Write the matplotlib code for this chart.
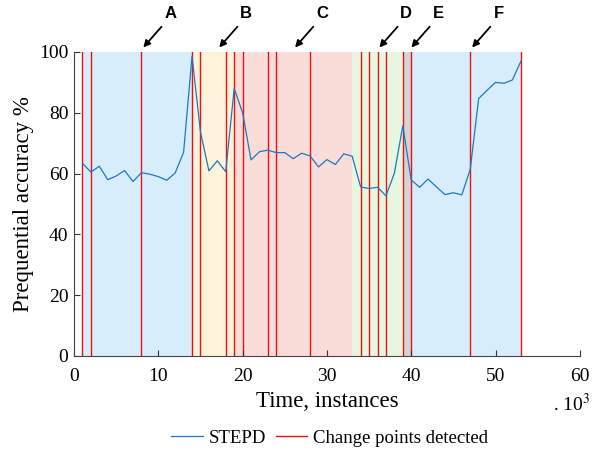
import numpy as np
import matplotlib
matplotlib.use('Agg')
from matplotlib import pyplot as plt

# Du lieu doc tu hinh
time_k = np.arange(1, 54)
stepd_acc = [63.4, 60.5, 62.4, 58.0, 59.2, 61.0, 57.4, 60.3, 59.8, 59.0,
             57.8, 60.2, 67.0, 98.6, 73.7, 60.9, 64.2, 60.6, 88.0, 80.0,
             64.5, 67.2, 67.7, 66.9, 66.9, 64.9, 66.7, 65.8, 62.2, 64.6,
             63.0, 66.5, 65.7, 55.6, 55.1, 55.5, 52.7, 60.1, 75.7, 57.9,
             55.5, 58.2, 55.6, 53.1, 53.7, 53.0, 61.4, 84.7, 87.4, 90.0,
             89.7, 90.8, 96.9]
change_points = [1, 2, 8, 14, 15, 18, 19, 20, 23, 24, 28, 34, 35, 36, 37, 39, 40, 47, 53]

# vung (bat dau, ket thuc, mau)
region_start = [1, 14, 19, 33, 39, 40]
region_end = [14, 19, 33, 39, 40, 53]
region_color = ['#d8edfb', '#fdf3da', '#fadcd8', '#e6f6e0', '#d4d4d8', '#d8edfb']

# nhan A-F va vi tri mui ten
labels = ['A', 'B', 'C', 'D', 'E', 'F']
label_x = [8, 17, 26, 36, 39.8, 47]

plt.rcParams['font.family'] = ['Liberation Serif', 'DejaVu Serif']
plt.rcParams['mathtext.fontset'] = 'stix'

fig = plt.figure(figsize=(5.93, 4.54), dpi=100)
ax = fig.add_axes([0.1248, 0.2159, 0.853, 0.6696])

for s, e, c in zip(region_start, region_end, region_color):
    ax.axvspan(s, e, color=c, lw=0, zorder=0)

for i, cp in enumerate(change_points):
    ax.axvline(cp, color='#ee1111', lw=1.0, zorder=1,
               label='Change points detected' if i == 0 else None)

ax.plot(time_k, stepd_acc, color='#1f77c4', lw=0.9, zorder=2, label='STEPD')

ax.set_xlim(0, 60)
ax.set_ylim(0, 100)
ax.set_xticks(range(0, 61, 10))
ax.set_yticks(range(0, 101, 20))
ax.tick_params(direction='in', labelsize=14, length=4, color='#333333', pad=4)
ax.tick_params(axis='x', pad=9)
for side in ['top', 'right']:
    ax.spines[side].set_visible(False)
for side in ['left', 'bottom']:
    ax.spines[side].set_color('#444444')

ax.set_xlabel('Time, instances', fontsize=16.5, labelpad=4)
ax.set_ylabel('Prequential accuracy %', fontsize=16.5, labelpad=4)
fig.text(0.932, 0.094, '. 10$^3$', fontsize=14)

for lab, lx in zip(labels, label_x):
    ax.annotate('', xy=(lx, 100.8), xytext=(lx + 2.6, 109),
                xycoords='data', annotation_clip=False,
                arrowprops=dict(arrowstyle='-|>', color='black', lw=1.3,
                                mutation_scale=10))
    ax.text(lx + 3.4, 110.3, lab, fontsize=12, fontweight='bold',
            family='Liberation Sans', ha='center', va='bottom', clip_on=False)

h, l = ax.get_legend_handles_labels()
order = [l.index('STEPD'), l.index('Change points detected')]
fig.legend([h[i] for i in order], [l[i] for i in order], loc='center',
           bbox_to_anchor=(0.556, 0.035), ncol=2, frameon=False, fontsize=13.5,
           handlelength=1.7, handletextpad=0.3, columnspacing=0.5)

fig.savefig('out.png', dpi=100)
